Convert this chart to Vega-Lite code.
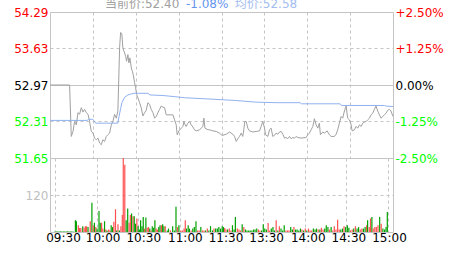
{
  "$schema": "https://vega.github.io/schema/vega-lite/v6.json",
  "padding": {"left": 13, "top": -3, "right": 0, "bottom": 0},
  "background": "white",
  "datasets": {
    "price": [
      {"t":0,"p":52.97},{"t":13.7,"p":52.97},{"t":14.9,"p":52.04},{"t":16.1,"p":52.13},{"t":17.2,"p":52.31},{"t":18.4,"p":52.25},{"t":19.6,"p":52.47},{"t":20.7,"p":52.44},{"t":21.9,"p":52.56},{"t":23.1,"p":52.48},{"t":24.2,"p":52.53},{"t":25.4,"p":52.47},{"t":26.6,"p":52.44},{"t":27.7,"p":52.31},{"t":28.9,"p":52.13},{"t":30.1,"p":52.10},{"t":31.2,"p":52.01},{"t":32.4,"p":51.98},{"t":33.6,"p":52.01},{"t":34.7,"p":51.92},{"t":35.9,"p":51.89},{"t":37.0,"p":51.98},{"t":38.2,"p":51.95},{"t":39.4,"p":52.04},{"t":40.5,"p":52.07},{"t":41.7,"p":52.10},{"t":42.9,"p":52.25},{"t":44.0,"p":52.31},{"t":45.2,"p":52.44},{"t":46.4,"p":52.37},{"t":47.5,"p":52.50},{"t":48.0,"p":52.97},{"t":48.7,"p":53.64},{"t":49.4,"p":53.92},{"t":50.3,"p":53.89},{"t":51.0,"p":53.64},{"t":52.2,"p":53.55},{"t":52.9,"p":53.49},{"t":53.6,"p":53.40},{"t":54.5,"p":53.52},{"t":55.2,"p":53.37},{"t":55.9,"p":53.46},{"t":56.9,"p":53.28},{"t":57.6,"p":53.22},{"t":58.2,"p":53.16},{"t":59.2,"p":53.01},{"t":59.9,"p":52.92},{"t":60.6,"p":52.80},{"t":61.5,"p":52.74},{"t":62.7,"p":52.65},{"t":63.8,"p":52.56},{"t":65.0,"p":52.41},{"t":66.2,"p":52.47},{"t":67.3,"p":52.51},{"t":68.5,"p":52.65},{"t":69.7,"p":52.62},{"t":70.8,"p":52.53},{"t":72.0,"p":52.47},{"t":73.2,"p":52.37},{"t":74.3,"p":52.40},{"t":75.5,"p":52.47},{"t":76.7,"p":52.53},{"t":77.8,"p":52.59},{"t":79.0,"p":52.57},{"t":80.2,"p":52.56},{"t":81.3,"p":52.43},{"t":82.5,"p":52.43},{"t":86.0,"p":52.43},{"t":87.2,"p":52.34},{"t":88.3,"p":52.25},{"t":89.0,"p":52.07},{"t":90.2,"p":52.14},{"t":91.8,"p":52.19},{"t":93.0,"p":52.22},{"t":93.7,"p":52.31},{"t":94.6,"p":52.25},{"t":95.3,"p":52.22},{"t":96.5,"p":52.28},{"t":97.6,"p":52.31},{"t":98.8,"p":52.25},{"t":100.0,"p":52.21},{"t":101.1,"p":52.16},{"t":102.3,"p":52.14},{"t":104.6,"p":52.16},{"t":105.8,"p":52.19},{"t":107.0,"p":52.22},{"t":107.7,"p":52.37},{"t":108.4,"p":52.19},{"t":110.5,"p":52.16},{"t":111.6,"p":52.16},{"t":114.0,"p":52.14},{"t":116.3,"p":52.13},{"t":118.6,"p":52.10},{"t":119.8,"p":52.07},{"t":120.9,"p":52.06},{"t":123.3,"p":52.08},{"t":125.6,"p":52.12},{"t":127.9,"p":52.08},{"t":129.1,"p":52.04},{"t":130.3,"p":51.95},{"t":131.4,"p":52.00},{"t":132.6,"p":52.04},{"t":133.8,"p":52.10},{"t":134.9,"p":52.04},{"t":135.6,"p":52.16},{"t":136.3,"p":52.31},{"t":137.3,"p":52.31},{"t":138.4,"p":52.19},{"t":139.6,"p":52.14},{"t":141.9,"p":52.12},{"t":144.2,"p":52.13},{"t":146.6,"p":52.14},{"t":147.7,"p":52.22},{"t":148.9,"p":52.31},{"t":150.1,"p":52.19},{"t":150.8,"p":52.07},{"t":152.4,"p":52.04},{"t":153.6,"p":52.16},{"t":154.7,"p":52.19},{"t":155.9,"p":52.04},{"t":157.1,"p":52.06},{"t":158.2,"p":52.10},{"t":159.4,"p":52.08},{"t":160.6,"p":52.12},{"t":161.7,"p":52.13},{"t":162.9,"p":52.08},{"t":164.1,"p":52.01},{"t":165.2,"p":52.02},{"t":166.4,"p":52.00},{"t":167.6,"p":52.04},{"t":168.7,"p":52.00},{"t":169.9,"p":52.02},{"t":171.1,"p":52.01},{"t":172.2,"p":52.04},{"t":173.4,"p":52.02},{"t":175.7,"p":52.01},{"t":179.2,"p":52.02},{"t":180.4,"p":52.07},{"t":181.5,"p":52.10},{"t":182.7,"p":52.16},{"t":183.9,"p":52.22},{"t":185.0,"p":52.36},{"t":186.2,"p":52.25},{"t":187.4,"p":52.19},{"t":188.5,"p":52.28},{"t":189.2,"p":52.07},{"t":190.9,"p":52.12},{"t":192.0,"p":52.10},{"t":193.9,"p":52.14},{"t":195.5,"p":52.07},{"t":196.7,"p":52.04},{"t":199.0,"p":52.04},{"t":200.2,"p":52.08},{"t":201.3,"p":52.16},{"t":202.5,"p":52.28},{"t":203.7,"p":52.40},{"t":204.8,"p":52.37},{"t":206.0,"p":52.50},{"t":207.2,"p":52.59},{"t":208.3,"p":52.37},{"t":209.5,"p":52.34},{"t":210.7,"p":52.25},{"t":211.4,"p":52.14},{"t":213.0,"p":52.16},{"t":214.2,"p":52.22},{"t":215.3,"p":52.19},{"t":216.5,"p":52.25},{"t":217.7,"p":52.22},{"t":218.8,"p":52.28},{"t":220.0,"p":52.30},{"t":221.2,"p":52.31},{"t":222.3,"p":52.34},{"t":223.5,"p":52.37},{"t":224.6,"p":52.43},{"t":225.8,"p":52.46},{"t":227.0,"p":52.53},{"t":228.1,"p":52.59},{"t":229.3,"p":52.50},{"t":230.5,"p":52.43},{"t":231.6,"p":52.37},{"t":232.8,"p":52.40},{"t":234.0,"p":52.43},{"t":235.1,"p":52.46},{"t":236.3,"p":52.51},{"t":237.5,"p":52.53},{"t":238.6,"p":52.50},{"t":240,"p":52.40}
    ],
    "avg": [
      {"t":0,"a":52.33},{"t":26,"a":52.33},{"t":27,"a":52.35},{"t":30,"a":52.35},{"t":32,"a":52.28},{"t":47.5,"a":52.28},{"t":48.3,"a":52.40},{"t":49.4,"a":52.54},{"t":50.3,"a":52.65},{"t":52.2,"a":52.75},{"t":54.5,"a":52.79},{"t":56.9,"a":52.81},{"t":59,"a":52.82},{"t":68.5,"a":52.82},{"t":70,"a":52.79},{"t":79,"a":52.78},{"t":87,"a":52.76},{"t":94,"a":52.74},{"t":109,"a":52.72},{"t":123,"a":52.70},{"t":130,"a":52.69},{"t":144,"a":52.66},{"t":159,"a":52.65},{"t":175,"a":52.65},{"t":176,"a":52.63},{"t":203,"a":52.63},{"t":204,"a":52.60},{"t":234,"a":52.60},{"t":235,"a":52.59},{"t":240,"a":52.58}
    ],
    "vol": [
      {"t":0,"v":2,"dir":"down"},{"t":1,"v":2,"dir":"down"},{"t":2,"v":2,"dir":"down"},{"t":3,"v":2,"dir":"down"},{"t":4,"v":2,"dir":"down"},{"t":5,"v":2,"dir":"down"},{"t":6,"v":2,"dir":"down"},{"t":7,"v":2,"dir":"down"},{"t":8,"v":2,"dir":"down"},{"t":9,"v":2,"dir":"down"},{"t":10,"v":2,"dir":"down"},{"t":11,"v":2,"dir":"down"},{"t":12,"v":2,"dir":"down"},{"t":13,"v":2,"dir":"down"},
      {"t":14.7,"v":38,"dir":"down"},{"t":15.4,"v":35,"dir":"down"},{"t":16.8,"v":22,"dir":"up"},{"t":17.7,"v":13,"dir":"up"},{"t":18.6,"v":13,"dir":"up"},{"t":20.0,"v":19,"dir":"down"},{"t":21.0,"v":14,"dir":"up"},{"t":21.9,"v":19,"dir":"up"},{"t":22.8,"v":19,"dir":"up"},{"t":23.8,"v":16,"dir":"down"},{"t":25.4,"v":35,"dir":"up"},{"t":26.6,"v":95,"dir":"down"},{"t":27.5,"v":22,"dir":"up"},{"t":28.4,"v":30,"dir":"down"},{"t":29.4,"v":16,"dir":"up"},{"t":30.3,"v":11,"dir":"down"},{"t":31.7,"v":68,"dir":"down"},{"t":32.6,"v":30,"dir":"down"},{"t":33.6,"v":30,"dir":"up"},{"t":34.5,"v":11,"dir":"up"},{"t":35.7,"v":35,"dir":"down"},{"t":36.6,"v":8,"dir":"up"},{"t":37.5,"v":5,"dir":"down"},{"t":38.7,"v":8,"dir":"up"},{"t":39.6,"v":5,"dir":"up"},{"t":40.5,"v":22,"dir":"down"},{"t":41.5,"v":16,"dir":"down"},{"t":42.4,"v":33,"dir":"up"},{"t":43.6,"v":74,"dir":"up"},{"t":44.5,"v":5,"dir":"down"},{"t":45.4,"v":25,"dir":"up"},{"t":46.4,"v":5,"dir":"down"},{"t":47.5,"v":19,"dir":"up"},{"t":48.5,"v":55,"dir":"up"},{"t":49.2,"v":240,"dir":"up"},{"t":50.3,"v":218,"dir":"up"},{"t":51.3,"v":38,"dir":"down"},{"t":52.4,"v":76,"dir":"down"},{"t":53.4,"v":30,"dir":"up"},{"t":54.3,"v":55,"dir":"up"},{"t":55.2,"v":60,"dir":"down"},{"t":56.2,"v":51,"dir":"up"},{"t":57.1,"v":51,"dir":"down"},{"t":58.0,"v":27,"dir":"down"},{"t":59.0,"v":44,"dir":"up"},{"t":59.9,"v":19,"dir":"down"},{"t":60.8,"v":8,"dir":"down"},{"t":61.7,"v":38,"dir":"down"},{"t":62.7,"v":19,"dir":"down"},{"t":63.6,"v":49,"dir":"down"},{"t":64.5,"v":11,"dir":"up"},{"t":65.5,"v":47,"dir":"down"},{"t":66.4,"v":14,"dir":"up"},{"t":67.3,"v":16,"dir":"up"},{"t":68.3,"v":11,"dir":"down"},{"t":69.2,"v":5,"dir":"up"},{"t":70.1,"v":19,"dir":"down"},{"t":71.1,"v":14,"dir":"down"},{"t":72.0,"v":38,"dir":"down"},{"t":72.9,"v":11,"dir":"up"},{"t":73.9,"v":8,"dir":"up"},{"t":74.8,"v":16,"dir":"down"},{"t":75.7,"v":22,"dir":"down"},{"t":76.7,"v":22,"dir":"up"},{"t":77.6,"v":25,"dir":"down"},{"t":78.5,"v":19,"dir":"down"},
      {"t":79.5,"v":19,"dir":"up"},{"t":80.9,"v":5,"dir":"down"},{"t":81.8,"v":11,"dir":"down"},{"t":83.2,"v":5,"dir":"up"},{"t":84.8,"v":19,"dir":"down"},{"t":86.0,"v":5,"dir":"down"},{"t":87.2,"v":82,"dir":"down"},{"t":88.3,"v":16,"dir":"up"},{"t":89.3,"v":22,"dir":"down"},{"t":90.7,"v":5,"dir":"up"},{"t":91.8,"v":5,"dir":"up"},{"t":93.0,"v":11,"dir":"up"},{"t":93.9,"v":38,"dir":"up"},{"t":94.8,"v":11,"dir":"down"},{"t":96.0,"v":22,"dir":"down"},{"t":96.9,"v":11,"dir":"down"},{"t":98.1,"v":5,"dir":"up"},{"t":99.3,"v":11,"dir":"down"},{"t":100.4,"v":16,"dir":"down"},{"t":101.6,"v":35,"dir":"down"},{"t":102.8,"v":5,"dir":"up"},{"t":103.9,"v":5,"dir":"up"},{"t":105.1,"v":16,"dir":"down"},{"t":106.3,"v":5,"dir":"up"},{"t":107.4,"v":5,"dir":"up"},{"t":108.6,"v":5,"dir":"down"},{"t":109.8,"v":11,"dir":"up"},{"t":110.9,"v":5,"dir":"down"},{"t":112.1,"v":19,"dir":"down"},{"t":113.5,"v":5,"dir":"down"},{"t":114.6,"v":11,"dir":"up"},{"t":115.8,"v":11,"dir":"down"},{"t":117.0,"v":11,"dir":"down"},{"t":118.1,"v":16,"dir":"down"},{"t":119.3,"v":11,"dir":"down"},{"t":120.5,"v":19,"dir":"down"},{"t":121.4,"v":16,"dir":"down"},{"t":122.3,"v":13,"dir":"up"},{"t":123.3,"v":8,"dir":"up"},{"t":124.4,"v":8,"dir":"down"},{"t":125.6,"v":11,"dir":"up"},{"t":126.8,"v":5,"dir":"up"},{"t":127.9,"v":22,"dir":"down"},{"t":129.1,"v":8,"dir":"down"},{"t":130.0,"v":49,"dir":"down"},{"t":131.4,"v":11,"dir":"up"},{"t":132.6,"v":8,"dir":"up"},{"t":133.8,"v":5,"dir":"up"},{"t":134.9,"v":25,"dir":"down"},{"t":136.1,"v":16,"dir":"up"},{"t":137.3,"v":8,"dir":"down"},{"t":138.4,"v":5,"dir":"down"},{"t":139.6,"v":5,"dir":"down"},{"t":140.7,"v":5,"dir":"down"},{"t":141.9,"v":5,"dir":"down"},{"t":143.1,"v":8,"dir":"down"},{"t":144.2,"v":8,"dir":"down"},{"t":145.4,"v":11,"dir":"down"},{"t":146.6,"v":8,"dir":"up"},{"t":147.7,"v":5,"dir":"up"},{"t":148.9,"v":5,"dir":"down"},{"t":150.1,"v":25,"dir":"down"},{"t":151.2,"v":11,"dir":"down"},{"t":152.4,"v":8,"dir":"down"},{"t":153.6,"v":29,"dir":"up"},{"t":154.7,"v":5,"dir":"up"},{"t":155.9,"v":11,"dir":"down"},{"t":157.1,"v":16,"dir":"down"},{"t":158.2,"v":5,"dir":"down"},{"t":159.4,"v":38,"dir":"up"},
      {"t":160.6,"v":5,"dir":"down"},{"t":161.7,"v":19,"dir":"up"},{"t":162.9,"v":11,"dir":"down"},{"t":164.1,"v":5,"dir":"down"},{"t":165.2,"v":22,"dir":"down"},{"t":166.4,"v":5,"dir":"up"},{"t":167.6,"v":5,"dir":"up"},{"t":168.7,"v":5,"dir":"up"},{"t":169.9,"v":16,"dir":"down"},{"t":171.1,"v":8,"dir":"down"},{"t":172.2,"v":16,"dir":"up"},{"t":173.4,"v":8,"dir":"down"},{"t":174.5,"v":8,"dir":"down"},{"t":175.7,"v":5,"dir":"down"},{"t":176.9,"v":11,"dir":"down"},{"t":178.0,"v":8,"dir":"up"},{"t":179.2,"v":5,"dir":"down"},{"t":180.4,"v":11,"dir":"up"},{"t":181.5,"v":5,"dir":"down"},{"t":182.7,"v":11,"dir":"up"},{"t":183.9,"v":5,"dir":"up"},{"t":185.0,"v":5,"dir":"up"},{"t":186.2,"v":11,"dir":"down"},{"t":187.4,"v":8,"dir":"down"},{"t":188.5,"v":11,"dir":"down"},{"t":189.7,"v":8,"dir":"up"},{"t":190.9,"v":8,"dir":"down"},{"t":192.0,"v":14,"dir":"up"},{"t":193.2,"v":8,"dir":"up"},{"t":194.4,"v":11,"dir":"down"},{"t":195.5,"v":22,"dir":"down"},{"t":196.7,"v":16,"dir":"down"},{"t":197.8,"v":8,"dir":"up"},{"t":199.0,"v":16,"dir":"down"},{"t":200.2,"v":5,"dir":"up"},{"t":201.3,"v":19,"dir":"up"},{"t":202.5,"v":8,"dir":"up"},{"t":203.7,"v":40,"dir":"up"},{"t":204.8,"v":8,"dir":"up"},{"t":206.0,"v":8,"dir":"down"},{"t":207.2,"v":11,"dir":"down"},{"t":208.3,"v":19,"dir":"up"},{"t":209.5,"v":16,"dir":"down"},{"t":210.7,"v":22,"dir":"down"},{"t":211.8,"v":14,"dir":"down"},{"t":213.0,"v":5,"dir":"up"},{"t":214.2,"v":8,"dir":"up"},{"t":215.3,"v":11,"dir":"down"},{"t":216.5,"v":19,"dir":"up"},{"t":217.7,"v":11,"dir":"down"},{"t":218.8,"v":16,"dir":"down"},{"t":220.0,"v":8,"dir":"up"},{"t":221.2,"v":11,"dir":"up"},{"t":222.3,"v":11,"dir":"down"},{"t":223.5,"v":16,"dir":"down"},{"t":224.6,"v":22,"dir":"up"},{"t":225.3,"v":38,"dir":"down"},{"t":226.5,"v":16,"dir":"up"},{"t":227.4,"v":44,"dir":"up"},{"t":228.4,"v":49,"dir":"down"},{"t":229.3,"v":11,"dir":"up"},{"t":230.5,"v":16,"dir":"up"},{"t":231.6,"v":16,"dir":"up"},{"t":232.8,"v":22,"dir":"up"},{"t":234.0,"v":49,"dir":"down"},{"t":235.1,"v":27,"dir":"up"},{"t":236.3,"v":11,"dir":"down"},{"t":237.5,"v":8,"dir":"down"},{"t":238.6,"v":16,"dir":"down"},{"t":239.5,"v":65,"dir":"down"}
    ]
  },
  "vconcat": [
    {
      "width": 343,
      "height": 146,
      "layer": [
        {
          "data": {"name": "price"},
          "mark": {"type": "line", "color": "#a0a0a0", "strokeWidth": 1},
          "encoding": {
            "x": {"field": "t", "type": "quantitative", "scale": {"domain": [0, 240], "nice": false, "zero": false},
                  "axis": {"values": [30, 60, 90, 120, 150, 180, 210], "labels": false, "ticks": false, "domain": false, "grid": true, "gridDash": [3, 3], "title": null}},
            "y": {"field": "p", "type": "quantitative", "scale": {"domain": [51.65, 54.29], "nice": false, "zero": false},
                  "axis": {"orient": "left", "values": [51.65, 52.31, 52.97, 53.63, 54.29], "format": ".2f", "grid": true,
                           "gridDash": {"condition": {"test": "datum.value == 52.97", "value": []}, "value": [3, 3]},
                           "labelColor": {"condition": [{"test": "datum.value > 52.98", "value": "#ff0000"}, {"test": "datum.value < 52.96", "value": "#00ff00"}], "value": "#000000"},
                           "labelAlign": "right", "labelBaseline": "middle", "title": null}}
          }
        },
        {
          "data": {"name": "avg"},
          "mark": {"type": "line", "color": "#8fb1ef", "strokeWidth": 1},
          "encoding": {
            "x": {"field": "t", "type": "quantitative"},
            "y": {"field": "a", "type": "quantitative",
                  "axis": {"orient": "right", "values": [51.65, 52.31, 52.97, 53.63, 54.29], "grid": false,
                           "labelExpr": "(datum.value > 52.98 ? '+' : datum.value < 52.96 ? '-' : '') + format(abs(round((datum.value - 52.97) / 52.97 * 400) / 4), '.2f') + '%'",
                           "labelColor": {"condition": [{"test": "datum.value > 52.98", "value": "#ff0000"}, {"test": "datum.value < 52.96", "value": "#00ff00"}], "value": "#000000"},
                           "labelAlign": "left", "labelBaseline": "middle", "title": null}}
          }
        },
        {
          "data": {"values": [{"s": "当前价:52.40"}]},
          "mark": {"type": "text", "align": "left", "baseline": "alphabetic", "color": "#a0a0a0", "font": "DejaVu Sans, Noto Sans CJK SC", "fontSize": 12, "clip": false},
          "encoding": {"text": {"field": "s"}, "x": {"datum": 38.4}, "y": {"datum": 54.36, "axis": null}}
        },
        {
          "data": {"values": [{"s": "-1.08%"}]},
          "mark": {"type": "text", "align": "left", "baseline": "alphabetic", "color": "#6495ed", "font": "DejaVu Sans, Noto Sans CJK SC", "fontSize": 12, "clip": false},
          "encoding": {"text": {"field": "s"}, "x": {"datum": 95.1}, "y": {"datum": 54.36, "axis": null}}
        },
        {
          "data": {"values": [{"s": "均价:52.58"}]},
          "mark": {"type": "text", "align": "left", "baseline": "alphabetic", "color": "#a3bdf0", "font": "DejaVu Sans, Noto Sans CJK SC", "fontSize": 12, "clip": false},
          "encoding": {"text": {"field": "s"}, "x": {"datum": 129.3}, "y": {"datum": 54.36, "axis": null}}
        }
      ],
      "resolve": {"scale": {"y": "shared"}, "axis": {"y": "independent"}}
    },
    {
      "width": 343,
      "height": 74,
      "data": {"name": "vol"},
      "mark": {"type": "bar", "width": 1.2},
      "encoding": {
        "x": {"field": "t", "type": "quantitative", "scale": {"domain": [0, 240], "nice": false, "zero": false},
              "axis": {"values": [0, 30, 60, 90, 120, 150, 180, 210, 240], "grid": true, "gridDash": [3, 3], "title": null,
                       "labelExpr": "['09:30','10:00','10:30','11:00','11:30','13:30','14:00','14:30','15:00'][round(datum.value / 30)]",
                       "labelColor": "#000000", "labelPadding": 0, "labelFlush": false, "labelOverlap": false, "labelBaseline": "top",
                       "labelOffset": {"condition": [{"test": "datum.value == 0", "value": 8}, {"test": "datum.value == 30", "value": 6}, {"test": "datum.value == 60", "value": 5}, {"test": "datum.value == 90", "value": 5}, {"test": "datum.value == 120", "value": 4}, {"test": "datum.value == 150", "value": 3}, {"test": "datum.value == 180", "value": 3}, {"test": "datum.value == 210", "value": 2}], "value": 1}}},
        "y": {"field": "v", "type": "quantitative", "scale": {"domain": [0, 240], "nice": false},
              "axis": {"values": [120], "grid": true, "gridDash": [3, 3], "labelColor": "#c0c0c0", "labelAlign": "right", "labelBaseline": "middle", "title": null}},
        "color": {"field": "dir", "type": "nominal", "scale": {"domain": ["up", "down"], "range": ["#ff5050", "#00a000"]}, "legend": null}
      }
    }
  ],
  "spacing": 0,
  "bounds": "flush",
  "resolve": {"scale": {"x": "independent", "y": "independent", "color": "independent"}},
  "config": {
    "view": {"stroke": "#c4c4c4"},
    "axis": {"labelFont": "DejaVu Sans", "labelFontSize": 12, "ticks": false, "domain": false, "gridColor": "#c4c4c4", "labelPadding": 2, "labelBound": false}
  }
}
